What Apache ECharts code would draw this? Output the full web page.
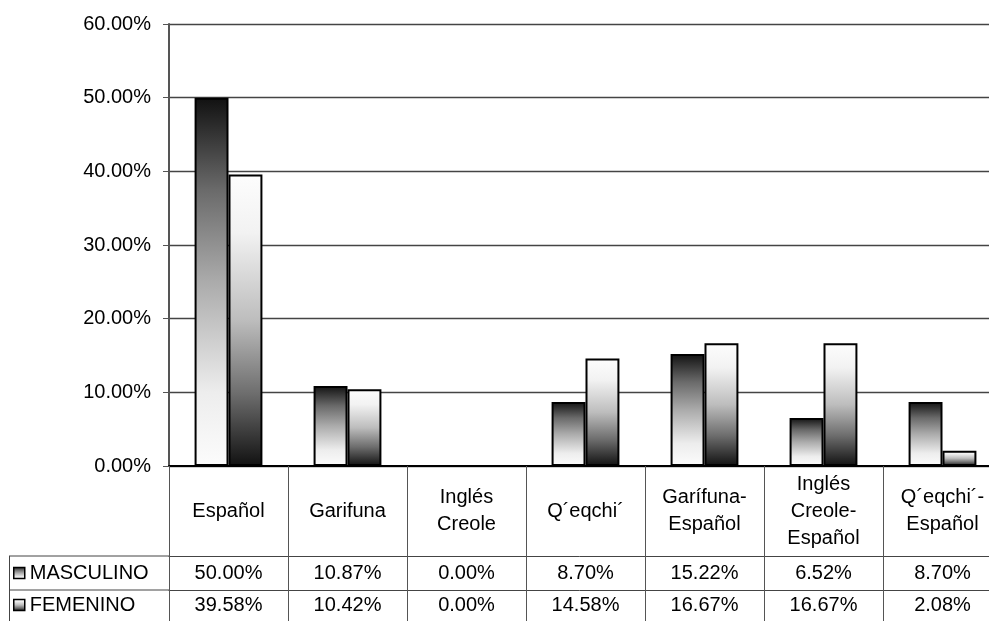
<!DOCTYPE html>
<html>
<head>
<meta charset="utf-8">
<script src="https://cdn.jsdelivr.net/npm/echarts@6/dist/echarts.min.js"></script>
<style>
  html, body { margin: 0; padding: 0; background: #fff; }
  #chart { width: 989px; height: 621px; }
</style>
</head>
<body>
<div id="chart"></div>
<script>
// Language groups and the share (percent) of each sex speaking them
const categories = ['Español', 'Garifuna', 'Inglés\nCreole', 'Q´eqchi´', 'Garífuna-\nEspañol', 'Inglés\nCreole-\nEspañol', 'Q´eqchi´-\nEspañol'];
const seriesNames = ['MASCULINO', 'FEMENINO'];
const masculino = [50.00, 10.87, 0.00, 8.70, 15.22, 6.52, 8.70];
const femenino = [39.58, 10.42, 0.00, 14.58, 16.67, 16.67, 2.08];
const yTicks = [0, 10, 20, 30, 40, 50, 60];

const FONT = '"Liberation Sans", Arial, sans-serif';
const pct = v => v.toFixed(2) + '%';

// vertical grey gradients: dark-to-light and light-to-dark
const darkTop = new echarts.graphic.LinearGradient(0, 0, 0, 1, [
  { offset: 0, color: '#111111' },
  { offset: 0.25, color: '#6a6a6a' },
  { offset: 0.5, color: '#ababab' },
  { offset: 0.8, color: '#ededed' },
  { offset: 1, color: '#fcfcfc' }
]);
const lightTop = new echarts.graphic.LinearGradient(0, 0, 0, 1, [
  { offset: 0, color: '#fdfdfd' },
  { offset: 0.2, color: '#f2f2f2' },
  { offset: 0.5, color: '#bdbdbd' },
  { offset: 0.75, color: '#6e6e6e' },
  { offset: 1, color: '#111111' }
]);

const chart = echarts.init(document.getElementById('chart'), null, { renderer: 'canvas' });

const tableLine = { color: '#444', width: 1 };

const legendBase = {
  left: 13, padding: 0, icon: 'rect', itemWidth: 11, itemHeight: 11, itemGap: 4,
  textStyle: { fontFamily: FONT, fontSize: 20, color: '#000' },
  itemStyle: { borderColor: '#000', borderWidth: 1.5 }
};

const option = {
  animation: false,
  backgroundColor: '#fff',
  textStyle: { fontFamily: FONT },
  grid: { left: 169, top: 24, width: 833, height: 442, containLabel: false, outerBoundsMode: 'none' },
  legend: [
    Object.assign({}, legendBase, { data: [seriesNames[0]], top: 563 }),
    Object.assign({}, legendBase, { data: [seriesNames[1]], top: 595 })
  ],
  xAxis: [
    {
      type: 'category', data: categories, position: 'bottom',
      axisLine: { show: true, lineStyle: { color: '#000', width: 2 } },
      axisTick: { show: true, inside: false, length: 155, lineStyle: { color: '#555', width: 1 } },
      axisLabel: {
        interval: 0, margin: 45, verticalAlign: 'middle', lineHeight: 27,
        fontFamily: FONT, fontSize: 20, color: '#000', hideOverlap: false
      },
      splitLine: { show: false }
    },
    {
      type: 'category', data: categories, position: 'bottom', offset: 90,
      axisLine: { show: true, lineStyle: tableLine },
      axisTick: { show: false },
      axisLabel: {
        interval: 0, margin: 17, verticalAlign: 'middle',
        fontFamily: FONT, fontSize: 20, color: '#000',
        formatter: (v, i) => pct(masculino[i])
      }
    },
    {
      type: 'category', data: categories, position: 'bottom', offset: 124,
      axisLine: { show: true, lineStyle: tableLine },
      axisTick: { show: false },
      axisLabel: {
        interval: 0, margin: 15, verticalAlign: 'middle',
        fontFamily: FONT, fontSize: 20, color: '#000',
        formatter: (v, i) => pct(femenino[i])
      }
    }
  ],
  yAxis: {
    type: 'value', min: yTicks[0], max: yTicks[yTicks.length - 1], interval: 10,
    axisLine: { show: true, lineStyle: { color: '#555', width: 2 } },
    axisTick: { show: true, inside: false, length: 6, lineStyle: { color: '#555', width: 1 } },
    axisLabel: { margin: 18, fontFamily: FONT, fontSize: 20, color: '#000', formatter: v => pct(v) },
    splitLine: { show: true, lineStyle: { color: '#444', width: 1.3 } }
  },
  series: [
    {
      name: seriesNames[0], type: 'bar', data: masculino,
      barGap: '0%', barCategoryGap: '43%',
      itemStyle: { color: darkTop, borderColor: '#000', borderWidth: 2 }
    },
    {
      name: seriesNames[1], type: 'bar', data: femenino,
      barGap: '0%', barCategoryGap: '43%',
      itemStyle: { color: lightTop, borderColor: '#000', borderWidth: 2 }
    }
  ],
  graphic: [
    // left part of the data table (row header cells)
    { type: 'line', shape: { x1: 9, y1: 556, x2: 169, y2: 556 }, style: { stroke: '#444', lineWidth: 1 }, silent: true },
    { type: 'line', shape: { x1: 9, y1: 590, x2: 169, y2: 590 }, style: { stroke: '#444', lineWidth: 1 }, silent: true },
    { type: 'line', shape: { x1: 9.5, y1: 556, x2: 9.5, y2: 621 }, style: { stroke: '#444', lineWidth: 1 }, silent: true }
  ]
};

chart.setOption(option);
</script>
</body>
</html>
